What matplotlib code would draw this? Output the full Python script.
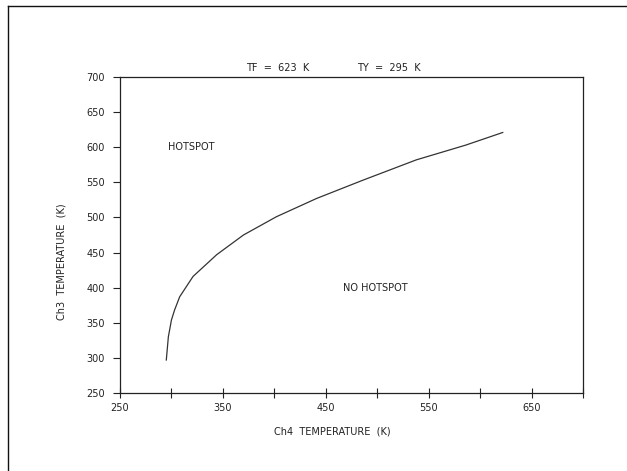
import matplotlib.pyplot as plt
from matplotlib.lines import Line2D

# boundary curve
ch4_temp = [295, 297, 300, 303, 308, 321, 344, 370, 402, 441, 486, 538, 586, 622]
ch3_temp = [297, 330, 354, 368, 387, 416, 447, 475, 501, 527, 553, 582, 603, 621]

x_ticks = [250, 350, 450, 550, 650]
x_minor = [300, 400, 500, 600, 700]
y_ticks = [250, 300, 350, 400, 450, 500, 550, 600, 650, 700]

ink = '#222222'
fs = 7
plt.rcParams['font.family'] = 'DejaVu Sans'

fig = plt.figure(figsize=(6.27, 4.71), dpi=100)
ax = fig.add_axes([120 / 627, 1 - 393 / 471, 463 / 627, 316 / 471])

ax.plot(ch4_temp, ch3_temp, color='#333333', lw=0.9)

ax.set_xlim(250, 700)
ax.set_ylim(250, 700)
ax.set_xticks(x_ticks)
ax.set_xticks(x_minor, minor=True)
ax.set_yticks(y_ticks)
ax.tick_params(axis='x', which='both', direction='inout', length=7, width=0.8,
               labelsize=fs, pad=4, colors=ink)
ax.tick_params(axis='y', direction='out', length=5, width=0.8,
               labelsize=fs, pad=6, colors=ink)
for s in ax.spines.values():
    s.set_color(ink)
    s.set_linewidth(0.9)

ax.text(319, 600, 'HOTSPOT', fontsize=fs, color=ink, ha='center', va='center')
ax.text(498, 399, 'NO HOTSPOT', fontsize=fs, color=ink, ha='center', va='center')

fig.text(278 / 627, 1 - 68 / 471, 'TF  =  623  K', fontsize=fs, color=ink, ha='center', va='center')
fig.text(389 / 627, 1 - 68 / 471, 'TY  =  295  K', fontsize=fs, color=ink, ha='center', va='center')
fig.text(332 / 627, 1 - 431 / 471, 'Ch4  TEMPERATURE  (K)', fontsize=fs, color=ink,
         ha='center', va='center')
fig.text(62 / 627, 1 - 262 / 471, 'Ch3  TEMPERATURE  (K)', fontsize=fs, color=ink,
         ha='center', va='center', rotation=90)

# page frame from the scan
fig.add_artist(Line2D([8 / 627, 8 / 627], [0, 1 - 6 / 471], color='#111111', lw=1.0))
fig.add_artist(Line2D([8 / 627, 1], [1 - 6 / 471, 1 - 6 / 471], color='#111111', lw=1.0))

fig.savefig('out.png', dpi=100)
